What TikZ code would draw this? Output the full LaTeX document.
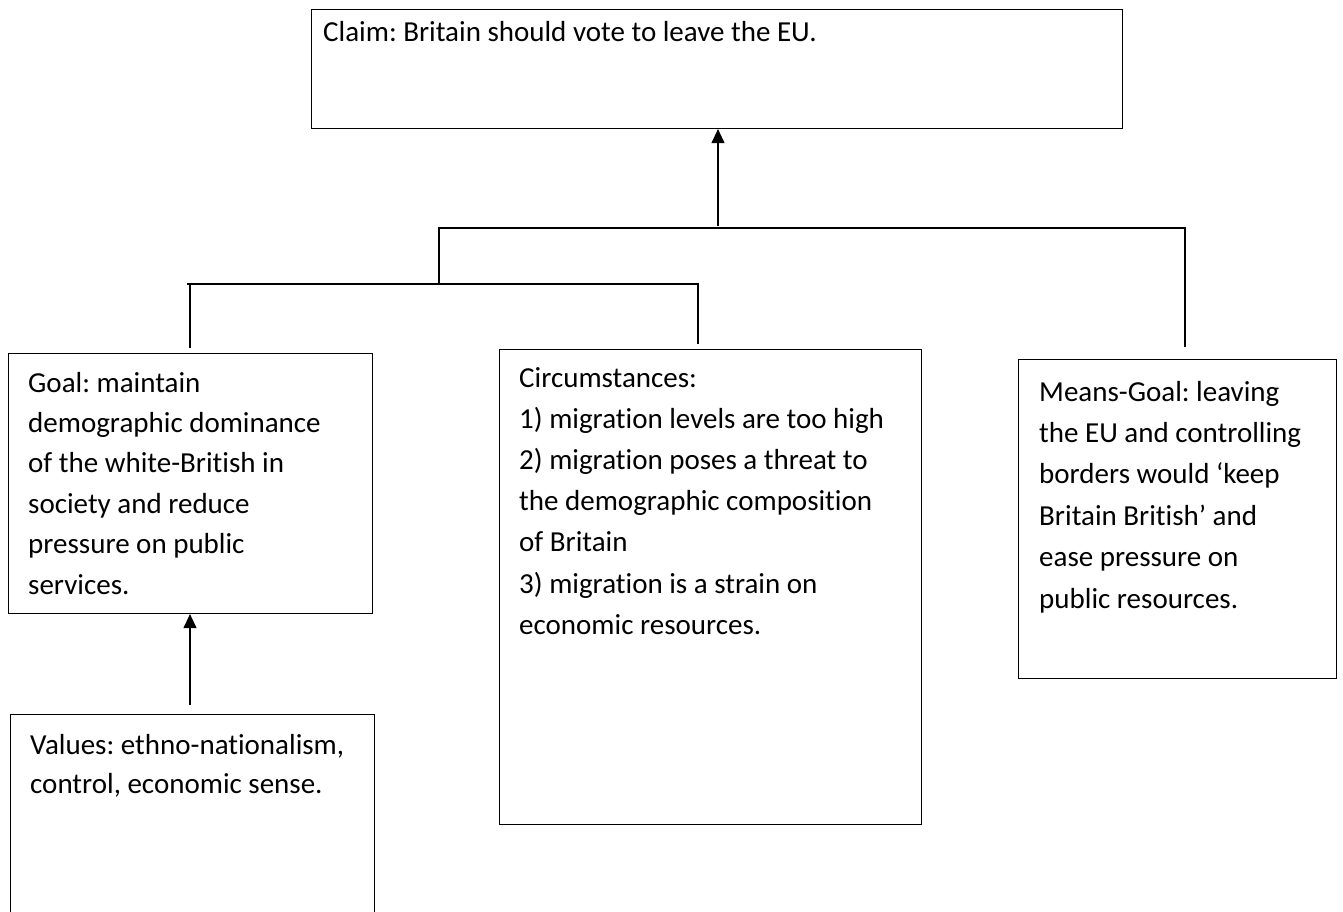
\documentclass[tikz,border=0pt]{standalone}
\usepackage{fontspec}
\setmainfont{Carlito}[Ligatures={NoCommon,TeX}]
\usetikzlibrary{arrows.meta}
\frenchspacing
\newcommand{\boxtext}[2]{\parbox[t]{420pt}{\fontsize{29}{#1}\selectfont\raggedright #2}}
\begin{document}
\begin{tikzpicture}[x=1pt,y=-1pt,
  box/.style={draw=black,line width=1.1pt,rectangle,inner sep=0pt,anchor=north west},
  txt/.style={anchor=base west,inner sep=0pt,font=\fontsize{29}{41}\selectfont},
  conn/.style={draw=black,line width=1.1pt},
  arr/.style={conn,-{Triangle[length=14pt,width=13pt]}}]
\path[use as bounding box] (0,0) rectangle (1343,911);
\clip (0,0) rectangle (1343,911);
% boxes
\node[box,minimum width=811pt,minimum height=119pt] (claim) at (311,9) {};
\node[box,minimum width=364pt,minimum height=260pt] (goal) at (8,353) {};
\node[box,minimum width=364pt,minimum height=240pt] (values) at (9.5,714) {};
\node[box,minimum width=422pt,minimum height=475pt] (circ) at (499,349) {};
\node[box,minimum width=318pt,minimum height=319pt] (means) at (1018,359) {};
% texts
\node[txt] (claimtxt) at (323,41) {Claim: Britain should vote to leave the EU.};
\node[txt] (goaltxt) at (28,392) {\boxtext{40.4}{Goal: maintain\\demographic dominance\\of the white-British in\\society and reduce\\pressure on public\\services.}};
\node[txt] (valtxt) at (30,754) {\boxtext{39}{Values: ethno-nationalism,\\control, economic sense.}};
\node[txt] (circtxt) at (519,387) {\boxtext{41.2}{Circumstances:\\1) migration levels are too high\\2) migration poses a threat to\\the demographic composition\\of Britain\\3) migration is a strain on\\economic resources.}};
\node[txt] (meanstxt) at (1039,401) {\boxtext{41.4}{Means-Goal: leaving\\the EU and controlling\\borders would ‘keep\\Britain British’ and\\ease pressure on\\public resources.}};
% junction coordinates
\coordinate (jtop) at (718,226);
\coordinate (ta) at (439,228);
\coordinate (tb) at (1185,228);
\coordinate (tc) at (1185,347);
\coordinate (tl) at (439,285);
\coordinate (la) at (187,284);
\coordinate (lb) at (698,284);
\coordinate (lc) at (698,344);
\coordinate (ga) at (190,284);
\coordinate (gb) at (190,348);
\coordinate (va) at (190,705);
% connectors
\draw[arr] (jtop) -- (jtop |- claim.south);
\draw[conn] (tl) -- (ta) -- (tb) -- (tc);
\draw[conn] (la) -- (lb) -- (lc);
\draw[conn] (ga) -- (gb);
\draw[arr] (va) -- (va |- goal.south);
\end{tikzpicture}
\end{document}
